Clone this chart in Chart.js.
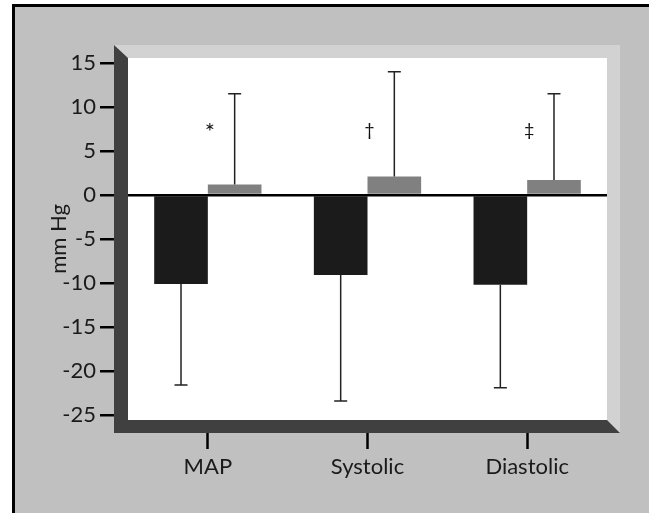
<!DOCTYPE html>
<html>
<head>
<meta charset="utf-8">
<script src="https://cdn.jsdelivr.net/npm/chart.js@4"></script>
<style>
  html, body { margin: 0; padding: 0; background: #fff; }
  #wrap { width: 649px; height: 513px; }
</style>
</head>
<body>
<div id="wrap"><canvas id="chart" width="649" height="513"></canvas></div>
<script>
// Data (mm Hg)
const categories = ['MAP', 'Systolic', 'Diastolic'];
const darkValues = [-10.1, -9.1, -10.2];
const darkSD = [11.5, 14.3, 11.7];
const grayValues = [1.2, 2.1, 1.7];
const graySD = [10.3, 11.9, 9.8];
const marks = ['*', '†', '‡'];
const markLevel = 7.4;
const yMin = -25.57;
const yMax = 15.57;
const yStep = 5;

const FONT = 'Lato, "Open Sans", sans-serif';

// 3D-ish frame around the plot area, plus the page background
const framePlugin = {
  id: 'frame',
  beforeDraw(chart) {
    const { ctx, chartArea: a, width, height } = chart;
    ctx.save();
    ctx.fillStyle = '#fff';
    ctx.fillRect(0, 0, width, height);
    ctx.fillStyle = '#000';
    ctx.fillRect(12, 4, width - 12, height - 4);
    ctx.fillStyle = '#c0c0c0';
    ctx.fillRect(15, 7, width - 15, height - 7);
    ctx.fillStyle = '#d2d2d2';
    ctx.fillRect(a.left - 14, a.top - 13, a.width + 27, a.height + 26);
    ctx.fillStyle = '#fff';
    ctx.fillRect(a.left, a.top, a.width, a.height);
    ctx.restore();
  },
  afterDraw(chart) {
    const { ctx, chartArea: a } = chart;
    ctx.save();
    ctx.fillStyle = '#404040';
    ctx.beginPath();
    ctx.moveTo(a.left - 14, a.top - 13);
    ctx.lineTo(a.left, a.top);
    ctx.lineTo(a.left, a.bottom);
    ctx.lineTo(a.right, a.bottom);
    ctx.lineTo(a.right + 13, a.bottom + 13);
    ctx.lineTo(a.left - 14, a.bottom + 13);
    ctx.closePath();
    ctx.fill();
    ctx.restore();
  }
};

// one-sided error bars and significance marks
const errorPlugin = {
  id: 'errors',
  afterDatasetsDraw(chart) {
    const { ctx, scales: { x, y } } = chart;
    ctx.save();
    ctx.strokeStyle = '#222';
    ctx.lineWidth = 1.5;
    const sets = [[0, darkValues, darkSD, -1], [1, grayValues, graySD, 1]];
    sets.forEach(([di, vals, sds, dir]) => {
      chart.getDatasetMeta(di).data.forEach((bar, i) => {
        const y0 = y.getPixelForValue(vals[i]);
        const y1 = y.getPixelForValue(vals[i] + dir * sds[i]);
        ctx.beginPath();
        ctx.moveTo(bar.x, y0);
        ctx.lineTo(bar.x, y1);
        ctx.moveTo(bar.x - 6.5, y1);
        ctx.lineTo(bar.x + 6.5, y1);
        ctx.stroke();
      });
    });

    ctx.fillStyle = '#111';
    ctx.textAlign = 'center';
    ctx.textBaseline = 'middle';
    marks.forEach((m, i) => {
      ctx.font = (m === '*' ? '24px ' : '18px ') + FONT;
      const dy = m === '*' ? 2 : 0;
      ctx.fillText(m, x.getPixelForValue(i) + 2, y.getPixelForValue(markLevel) + dy);
    });
    ctx.restore();
  }
};

new Chart(document.getElementById('chart'), {
  type: 'bar',
  data: {
    labels: categories,
    datasets: [
      {
        data: darkValues,
        backgroundColor: '#1b1b1b',
        borderWidth: 0,
        categoryPercentage: 0.672,
        barPercentage: 1
      },
      {
        data: grayValues,
        backgroundColor: '#808080',
        borderWidth: 0,
        categoryPercentage: 0.672,
        barPercentage: 1
      }
    ]
  },
  options: {
    responsive: false,
    animation: false,
    layout: { padding: { top: 58, right: 42, left: 0, bottom: 0 } },
    plugins: {
      legend: { display: false },
      tooltip: { enabled: false }
    },
    scales: {
      x: {
        afterFit: (s) => { s.height = 93; },
        border: { display: false },
        grid: {
          offset: false,
          drawOnChartArea: false,
          color: 'rgba(0,0,0,0)',
          tickColor: '#000',
          tickLength: 29,
          tickWidth: 2.5
        },
        ticks: {
          color: '#1a1a1a',
          font: { family: FONT, size: 22 },
          padding: 5
        }
      },
      y: {
        z: 1,
        min: yMin,
        max: yMax,
        afterFit: (s) => { s.width = 128; },
        border: { display: false },
        grid: {
          color: (c) => (c.tick && c.tick.value === 0 ? '#000' : 'rgba(0,0,0,0)'),
          lineWidth: 2.5,
          tickColor: '#000',
          tickLength: 28,
          tickWidth: 2.5
        },
        ticks: {
          stepSize: yStep,
          includeBounds: false,
          color: '#1a1a1a',
          font: { family: FONT, size: 22 },
          padding: 4
        },
        title: {
          display: true,
          text: 'mm Hg',
          color: '#1a1a1a',
          font: { family: FONT, size: 22 },
          padding: { top: 46, bottom: 0 }
        }
      }
    }
  },
  plugins: [framePlugin, errorPlugin]
});
</script>
</body>
</html>
